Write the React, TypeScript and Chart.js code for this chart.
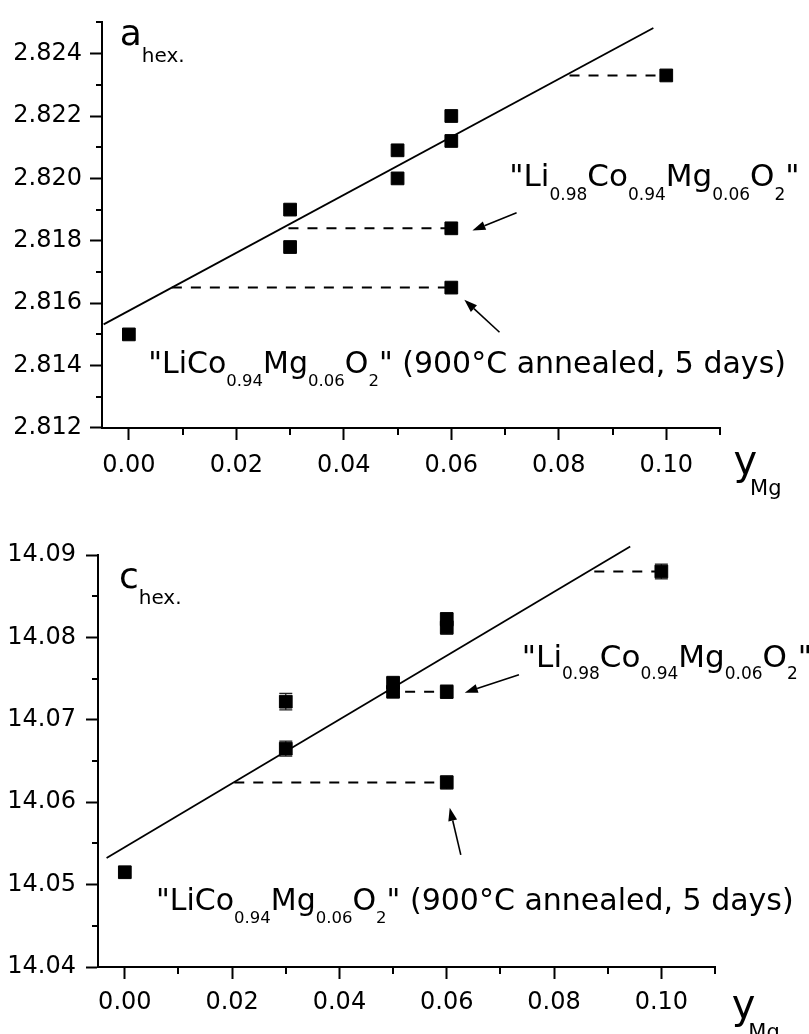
import React, { useEffect, useRef } from 'react';
import { Chart, registerables } from 'chart.js';
Chart.register(...registerables);

const FONT = '"DejaVu Sans", sans-serif';

// ---------- top panel (a_hex) ----------
const aX = [0, 0.03, 0.03, 0.05, 0.05, 0.06, 0.06, 0.06, 0.06, 0.10];
const aY = [2.8150, 2.8190, 2.8178, 2.8209, 2.8200, 2.8220, 2.8212, 2.8184, 2.8165, 2.8233];
const aFitX = [-0.0047, 0.0976];
const aFitY = [2.81532, 2.82482];
// [xStart, xEnd, y]
const aGuides = [
  [0.082, 0.10, 2.8233],
  [0.0297, 0.06, 2.8184],
  [0.008, 0.06, 2.8165],
];
const aYTicks = { min: 2.812, max: 2.825, step: 0.002, minorStart: 2.813 };

// ---------- bottom panel (c_hex) ----------
const cX = [0, 0.03, 0.03, 0.05, 0.05, 0.06, 0.06, 0.06, 0.06, 0.10];
const cY = [14.0515, 14.0722, 14.0665, 14.0745, 14.0734, 14.0822, 14.0812, 14.0734, 14.0624, 14.0880];
const cErr = [0, 0.001, 0.0009, 0.0006, 0.0006, 0.0008, 0.0008, 0.0008, 0.0008, 0.0009];
const cFitX = [-0.0034, 0.0942];
const cFitY = [14.05324, 14.09103];
const cGuides = [
  [0.0875, 0.10, 14.088],
  [0.0487, 0.06, 14.0734],
  [0.0204, 0.06, 14.0624],
];
const cYTicks = { min: 14.04, max: 14.09, step: 0.01, minorStart: 14.045 };

const xTicks = { min: -0.005, max: 0.11, step: 0.02, minorStart: 0.01 };

type Run = [string, number, number, number?];
type Note = { x: number; y: number; runs: Run[] };
type Arrow = [number, number, number, number];

const aNotes: Note[] = [
  { x: -0.0017, y: 2.82428, runs: [['a', 36, 0], ['hex.', 20, 17]] },
  { x: 0.0708, y: 2.81975, runs: [['"Li', 31, 0], ['0.98', 17, 14], ['Co', 31, 0], ['0.94', 17, 14], ['Mg', 31, 0], ['0.06', 17, 14], ['O', 31, 0], ['2', 17, 14], ['"', 31, 0]] },
  { x: 0.0036, y: 2.81377, runs: [['"LiCo', 30, 0], ['0.94', 16.5, 13], ['Mg', 30, 0], ['0.06', 16.5, 13], ['O', 30, 0], ['2', 16.5, 13], ['" (900°C annealed, 5 days)', 30, 0]] },
  { x: 0.1125, y: 2.81054, runs: [['y', 40, 0], ['Mg', 21, 21, -7]] },
];
const aArrows: Arrow[] = [
  [0.07215, 2.8189, 0.06393, 2.81833],
  [0.06897, 2.81507, 0.06243, 2.81611],
];

const cNotes: Note[] = [
  { x: -0.0011, y: 14.08605, runs: [['c', 36, 0], ['hex.', 20, 16]] },
  { x: 0.0740, y: 14.07645, runs: [['"Li', 31, 0], ['0.98', 17, 12], ['Co', 31, 0], ['0.94', 17, 12], ['Mg', 31, 0], ['0.06', 17, 12], ['O', 31, 0], ['2', 17, 12], ['"', 31, 0]] },
  { x: 0.0058, y: 14.04693, runs: [['"LiCo', 30, 0], ['0.94', 16.5, 13], ['Mg', 30, 0], ['0.06', 16.5, 13], ['O', 30, 0], ['2', 16.5, 13], ['" (900°C annealed, 5 days)', 30, 0]] },
  { x: 0.1131, y: 14.0338, runs: [['y', 40, 0], ['Mg', 21, 21, -7]] },
];
const cArrows: Arrow[] = [
  [0.07346, 14.07548, 0.06336, 14.07329],
  [0.06262, 14.05361, 0.06056, 14.05932],
];

type PanelCfg = {
  xs: number[]; ys: number[]; errs?: number[];
  fitX: number[]; fitY: number[]; guides: number[][];
  yT: { min: number; max: number; step: number; minorStart: number };
  yDigits: number; notes: Note[]; arrows: Arrow[];
  layout: { left: number; right: number; top: number; bottom: number; xPad: number; yPad: number };
};

function makePlugin(cfg: PanelCfg) {
  return {
    id: 'extras',
    beforeDatasetsDraw(chart: any) {
      if (!cfg.errs) return;
      const { ctx } = chart;
      const x = chart.scales.x, y = chart.scales.y;
      ctx.save();
      ctx.strokeStyle = '#222';
      ctx.lineWidth = 1.2;
      cfg.xs.forEach((xv, i) => {
        const e = cfg.errs![i];
        if (!e) return;
        const px = x.getPixelForValue(xv);
        const p1 = y.getPixelForValue(cfg.ys[i] + e);
        const p2 = y.getPixelForValue(cfg.ys[i] - e);
        ctx.beginPath();
        ctx.moveTo(px, p1); ctx.lineTo(px, p2);
        ctx.moveTo(px - 6.5, p1); ctx.lineTo(px + 6.5, p1);
        ctx.moveTo(px - 6.5, p2); ctx.lineTo(px + 6.5, p2);
        ctx.stroke();
      });
      ctx.restore();
    },
    afterDraw(chart: any) {
      const { ctx, chartArea } = chart;
      const x = chart.scales.x, y = chart.scales.y;
      ctx.save();
      ctx.strokeStyle = '#000';
      ctx.fillStyle = '#000';
      ctx.lineWidth = 2;
      // minor ticks
      for (let v = xTicks.minorStart; v <= xTicks.max + 1e-9; v += xTicks.step) {
        const px = Math.round(x.getPixelForValue(v));
        ctx.beginPath(); ctx.moveTo(px, chartArea.bottom); ctx.lineTo(px, chartArea.bottom + 7); ctx.stroke();
      }
      for (let v = cfg.yT.minorStart; v <= cfg.yT.max + 1e-9; v += cfg.yT.step) {
        const py = Math.round(y.getPixelForValue(v));
        ctx.beginPath(); ctx.moveTo(chartArea.left, py); ctx.lineTo(chartArea.left - 6, py); ctx.stroke();
      }
      // arrows
      ctx.lineWidth = 1.6;
      cfg.arrows.forEach(([x1, y1, x2, y2]) => {
        const ax = x.getPixelForValue(x1), ay = y.getPixelForValue(y1);
        const bx = x.getPixelForValue(x2), by = y.getPixelForValue(y2);
        const ang = Math.atan2(by - ay, bx - ax);
        const L = 13, W = 4.5;
        const hx = bx - L * Math.cos(ang), hy = by - L * Math.sin(ang);
        ctx.beginPath(); ctx.moveTo(ax, ay); ctx.lineTo(hx, hy); ctx.stroke();
        ctx.beginPath();
        ctx.moveTo(bx, by);
        ctx.lineTo(hx + W * Math.sin(ang), hy - W * Math.cos(ang));
        ctx.lineTo(hx - W * Math.sin(ang), hy + W * Math.cos(ang));
        ctx.closePath(); ctx.fill();
      });
      // text notes
      ctx.textAlign = 'left';
      ctx.textBaseline = 'alphabetic';
      cfg.notes.forEach((n) => {
        let cx = x.getPixelForValue(n.x);
        const cy = y.getPixelForValue(n.y);
        n.runs.forEach(([t, size, dy, dx]) => {
          cx += dx || 0;
          ctx.font = `${size}px ${FONT}`;
          ctx.fillText(t, cx, cy + dy);
          cx += ctx.measureText(t).width;
        });
      });
      ctx.restore();
    },
  };
}

function Panel({ cfg }: { cfg: PanelCfg }) {
  const ref = useRef<HTMLCanvasElement>(null);
  useEffect(() => {
    const points = cfg.xs.map((v, i) => ({ x: v, y: cfg.ys[i] }));
    const fit = cfg.fitX.map((v, i) => ({ x: v, y: cfg.fitY[i] }));
    const guideSets = cfg.guides.map((g) => ({
      data: [{ x: g[0], y: g[2] }, { x: g[1], y: g[2] }],
      showLine: true, borderColor: '#000', borderWidth: 2, borderDash: [10, 9],
      pointRadius: 0, fill: false, clip: false,
    }));
    const L = cfg.layout;
    const chart = new Chart(ref.current!, {
      type: 'scatter',
      data: {
        datasets: [
          { data: fit, showLine: true, borderColor: '#000', borderWidth: 1.8, pointRadius: 0, fill: false, clip: false },
          ...guideSets,
          { data: points, pointStyle: 'rect', pointRadius: 9, backgroundColor: '#000', borderColor: '#000', borderWidth: 1, clip: false },
        ] as any,
      },
      options: {
        animation: false,
        responsive: false,
        events: [],
        layout: { padding: { left: 0, right: L.right, top: L.top, bottom: 0 } },
        plugins: { legend: { display: false }, tooltip: { enabled: false } },
        scales: {
          x: {
            type: 'linear', min: xTicks.min, max: xTicks.max,
            afterFit: (s: any) => { s.height = L.bottom; },
            grid: { drawOnChartArea: false, drawTicks: true, tickLength: 12, tickWidth: 2, tickColor: '#000' },
            border: { display: true, color: '#000', width: 2 },
            ticks: {
              stepSize: xTicks.step, includeBounds: false, color: '#000', padding: L.xPad,
              font: { family: FONT, size: 24 }, maxRotation: 0,
              callback: (v: any) => Number(v).toFixed(2),
            },
          },
          y: {
            type: 'linear', min: cfg.yT.min, max: cfg.yT.max,
            afterFit: (s: any) => { s.width = L.left; },
            grid: { drawOnChartArea: false, drawTicks: true, tickLength: 12, tickWidth: 2, tickColor: '#000' },
            border: { display: true, color: '#000', width: 2 },
            ticks: {
              stepSize: cfg.yT.step, includeBounds: false, color: '#000', padding: L.yPad,
              font: { family: FONT, size: 24 },
              callback: (v: any) => Number(v).toFixed(cfg.yDigits),
            },
          },
        },
      } as any,
      plugins: [makePlugin(cfg)],
    });
    return () => chart.destroy();
  }, [cfg]);
  return <canvas ref={ref} width={809} height={517} style={{ display: 'block', width: 809, height: 517 }} />;
}

const topCfg: PanelCfg = {
  xs: aX, ys: aY, fitX: aFitX, fitY: aFitY, guides: aGuides, yT: aYTicks, yDigits: 3,
  notes: aNotes, arrows: aArrows,
  layout: { left: 102, right: 89, top: 16, bottom: 89, xPad: 11, yPad: 8 },
};
const botCfg: PanelCfg = {
  xs: cX, ys: cY, errs: cErr, fitX: cFitX, fitY: cFitY, guides: cGuides, yT: cYTicks, yDigits: 2,
  notes: cNotes, arrows: cArrows,
  layout: { left: 98, right: 94, top: 38, bottom: 67, xPad: 9, yPad: 10 },
};

export default function App() {
  return (
    <div style={{ position: 'absolute', left: 0, top: 0, width: 809, height: 1034, background: '#fff', overflow: 'hidden' }}>
      <Panel cfg={topCfg} />
      <Panel cfg={botCfg} />
    </div>
  );
}
